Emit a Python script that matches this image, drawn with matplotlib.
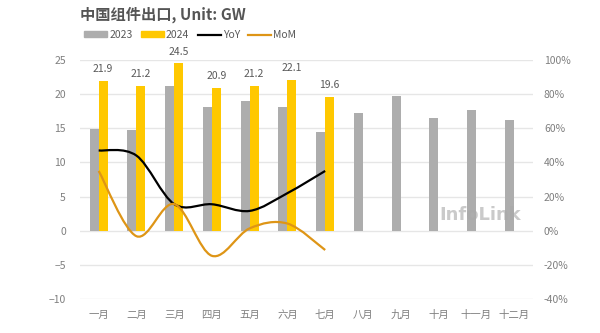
import matplotlib.pyplot as plt
from matplotlib.path import Path
from matplotlib.patches import PathPatch
from matplotlib.lines import Line2D
from matplotlib.patches import Patch
import numpy as np

plt.rcParams['font.family'] = ['Noto Sans CJK SC', 'DejaVu Sans']

months = ['一月', '二月', '三月', '四月', '五月', '六月', '七月', '八月', '九月', '十月', '十一月', '十二月']
v2023 = [14.9, 14.7, 21.2, 18.1, 19.0, 18.1, 14.5, 17.3, 19.7, 16.5, 17.7, 16.2]
v2024 = [21.9, 21.2, 24.5, 20.9, 21.2, 22.1, 19.6]
yoy = [47, 44, 15.6, 15.5, 11.6, 22, 35]
mom = [35, -3.2, 15.6, -14.7, 1.4, 4.2, -11.3]

c_gray = '#ADADAD'
c_yel = '#FFC800'
c_org = '#DE9516'
c_txt = '#7F7F7F'


def smooth_path(xs, ys):
    # bezier segments like Excel's smoothed line
    pts = list(zip(xs, ys))
    verts = [pts[0]]
    codes = [Path.MOVETO]
    n = len(pts)
    for i in range(n - 1):
        p0 = pts[i - 1] if i > 0 else pts[i]
        p1 = pts[i]
        p2 = pts[i + 1]
        p3 = pts[i + 2] if i + 2 < n else pts[i + 1]
        c1 = (p1[0] + (p2[0] - p0[0]) / 6, p1[1] + (p2[1] - p0[1]) / 6)
        c2 = (p2[0] - (p3[0] - p1[0]) / 6, p2[1] - (p3[1] - p1[1]) / 6)
        verts += [c1, c2, p2]
        codes += [Path.CURVE4] * 3
    return Path(verts, codes)


fig = plt.figure(figsize=(6, 3.33), dpi=100)
ax = fig.add_axes([0.133, 0.102, 0.755, 0.718])
ax2 = ax.twinx()

x = np.arange(len(months))
w = 0.24
ax.bar(x - w / 2, v2023, w, color=c_gray, zorder=2)
ax.bar(x[:len(v2024)] + w / 2, v2024, w, color=c_yel, zorder=2)
for xi, v in zip(x, v2024):
    ax.text(xi + w / 2, v + 1.0, f'{v}', ha='center', va='bottom', fontsize=7.5, color='#595959')

ax.set_ylim(-10, 25)
ax.set_yticks(range(-10, 26, 5))
ax.set_xlim(-0.5, 11.5)
ax.set_xticks(x)
ax.set_xticklabels(months)
ax.grid(axis='y', color='#E6E6E6', lw=1, zorder=0)
ax.set_axisbelow(True)

ax2.set_ylim(-40, 100)
ax2.set_yticks(range(-40, 101, 20))
ax2.set_yticklabels([f'{t}%' for t in range(-40, 101, 20)])

ax2.add_patch(PathPatch(smooth_path(x[:7], yoy), fill=False, edgecolor='black', lw=1.6, zorder=3))
ax2.add_patch(PathPatch(smooth_path(x[:7], mom), fill=False, edgecolor=c_org, lw=1.6, zorder=3))

for a in (ax, ax2):
    for s in a.spines.values():
        s.set_visible(False)
    a.tick_params(length=0, labelsize=7.5, colors=c_txt)
ax.tick_params(axis='y', pad=10)
ax.tick_params(axis='x', pad=8)
ax2.tick_params(axis='y', pad=8)

fig.text(0.133, 0.955, '中国组件出口, Unit: GW', fontsize=11, color='#555555', va='center',
         fontweight='bold')

handles = [Patch(color=c_gray), Patch(color=c_yel),
           Line2D([], [], color='black', lw=1.6), Line2D([], [], color=c_org, lw=1.6)]
fig.legend(handles, ['2023', '2024', 'YoY', 'MoM'], loc='center left', bbox_to_anchor=(0.125, 0.895),
           ncol=4, frameon=False, fontsize=7.5, labelcolor='#595959', handlelength=2.2, handleheight=0.5,
           handletextpad=0.2, columnspacing=0.8)

ax.text(0.885, 0.35, 'InfoLink', transform=ax.transAxes, fontsize=13, color='#A8A8A8', alpha=0.6,
        ha='center', va='center', family='DejaVu Sans', fontweight='bold', zorder=5)

fig.savefig('out.png', dpi=100)
